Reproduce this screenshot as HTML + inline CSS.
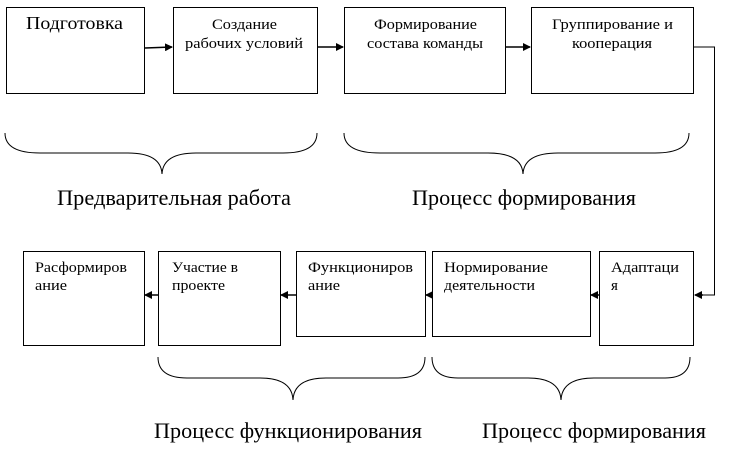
<!DOCTYPE html>
<html><head><meta charset="utf-8"><style>
body{margin:0;background:#fff;}
svg text{font-family:"Liberation Serif",serif;fill:#000;}
</style></head><body>
<svg width="731" height="447" viewBox="0 0 731 447" xmlns="http://www.w3.org/2000/svg">
<defs><marker id="a" markerWidth="8" markerHeight="8" refX="7" refY="4" orient="auto" markerUnits="userSpaceOnUse"><path d="M0,0 L8,4 L0,8 z" fill="#000"/></marker></defs>
<g fill="none" stroke="#000" stroke-width="1">
<rect x="6.5" y="7.5" width="138" height="86"/>
<rect x="173.5" y="7.5" width="144" height="86"/>
<rect x="344.5" y="7.5" width="161" height="86"/>
<rect x="531.5" y="7.5" width="162" height="86"/>
<rect x="23.5" y="251.5" width="121" height="94"/>
<rect x="158.5" y="251.5" width="122" height="94"/>
<rect x="296.5" y="251.5" width="129" height="85"/>
<rect x="432.5" y="251.5" width="158" height="85"/>
<rect x="599.5" y="251.5" width="94" height="94"/>
<g stroke-width="1.5">
<line x1="145" y1="48" x2="172" y2="47" marker-end="url(#a)"/>
<line x1="318" y1="47" x2="343" y2="47" marker-end="url(#a)"/>
<line x1="506" y1="47" x2="530" y2="47" marker-end="url(#a)"/>
<line x1="158" y1="295" x2="145" y2="295" marker-end="url(#a)"/>
<line x1="296" y1="295" x2="281" y2="295" marker-end="url(#a)"/>
<line x1="432" y1="295" x2="426" y2="295" marker-end="url(#a)"/>
<line x1="599" y1="295" x2="591" y2="295" marker-end="url(#a)"/>
</g>
<polyline points="694,47 714.5,47 714.5,295 702,295"/>
<line x1="703" y1="295" x2="695" y2="295" stroke-width="1.5" marker-end="url(#a)"/>
<path d="M5,133 Q5,153 40,153 L128,153 Q161,153 162,174 Q163,153 196,153 L283,153 Q317,153 317,133"/>
<path d="M344,133 Q344,153 380,153 L488,153 Q522,153 523,174 Q524,153 558,153 L655,153 Q689,153 689,133"/>
<path d="M158,357 Q158,378 187,378 L260,378 Q292,378 293,400 Q294,378 326,378 L398,378 Q425,378 425,357"/>
<path d="M432,357 Q432,378 458,378 L528,378 Q560,378 561,400 Q562,378 594,378 L665,378 Q690,378 690,357"/>
</g>
<text x="26" y="29" font-size="18" textLength="97" lengthAdjust="spacingAndGlyphs">Подготовка</text>
<text x="212" y="29" font-size="15" textLength="65" lengthAdjust="spacingAndGlyphs">Создание</text>
<text x="185" y="48" font-size="15" textLength="118" lengthAdjust="spacingAndGlyphs">рабочих условий</text>
<text x="374" y="29" font-size="15" textLength="103" lengthAdjust="spacingAndGlyphs">Формирование</text>
<text x="367" y="48" font-size="15" textLength="116" lengthAdjust="spacingAndGlyphs">состава команды</text>
<text x="552" y="29" font-size="15" textLength="121" lengthAdjust="spacingAndGlyphs">Группирование и</text>
<text x="572" y="48" font-size="15" textLength="80" lengthAdjust="spacingAndGlyphs">кооперация</text>
<text x="57" y="205" font-size="22" textLength="234" lengthAdjust="spacingAndGlyphs">Предварительная работа</text>
<text x="412" y="205" font-size="22" textLength="224" lengthAdjust="spacingAndGlyphs">Процесс формирования</text>
<text x="35" y="272" font-size="15" textLength="92" lengthAdjust="spacingAndGlyphs">Расформиров</text>
<text x="35" y="290" font-size="15" textLength="32" lengthAdjust="spacingAndGlyphs">ание</text>
<text x="172" y="272" font-size="15" textLength="66" lengthAdjust="spacingAndGlyphs">Участие в</text>
<text x="172" y="290" font-size="15" textLength="53" lengthAdjust="spacingAndGlyphs">проекте</text>
<text x="308" y="272" font-size="15" textLength="105" lengthAdjust="spacingAndGlyphs">Функциониров</text>
<text x="308" y="290" font-size="15" textLength="32" lengthAdjust="spacingAndGlyphs">ание</text>
<text x="444" y="272" font-size="15" textLength="104" lengthAdjust="spacingAndGlyphs">Нормирование</text>
<text x="444" y="290" font-size="15" textLength="91" lengthAdjust="spacingAndGlyphs">деятельности</text>
<text x="611" y="272" font-size="15" textLength="68" lengthAdjust="spacingAndGlyphs">Адаптаци</text>
<text x="611" y="290" font-size="15">я</text>
<text x="154" y="438" font-size="22" textLength="268" lengthAdjust="spacingAndGlyphs">Процесс функционирования</text>
<text x="482" y="438" font-size="22" textLength="224" lengthAdjust="spacingAndGlyphs">Процесс формирования</text>
</svg>
</body></html>
